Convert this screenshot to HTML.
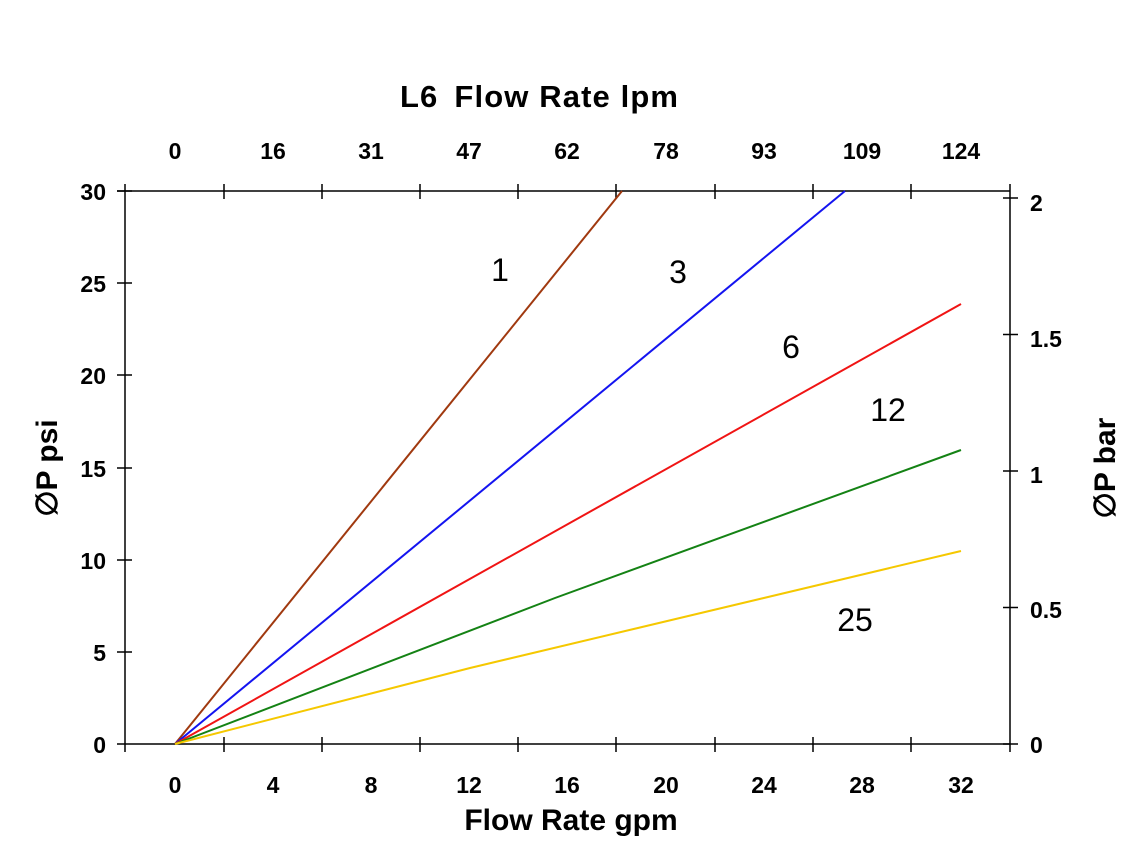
<!DOCTYPE html>
<html><head><style>body{margin:0;background:#fff}</style></head><body>
<svg width="1144" height="858" viewBox="0 0 1144 858" xmlns="http://www.w3.org/2000/svg" font-family="Liberation Sans, sans-serif">
<rect width="1144" height="858" fill="#fff"/>
<g stroke="#000" stroke-width="1.5" fill="none">
<line x1="117" y1="191" x2="1010" y2="191"/>
<line x1="117" y1="744" x2="1010" y2="744"/>
<line x1="125" y1="184" x2="125" y2="752"/>
<line x1="1010" y1="184" x2="1010" y2="752"/>
<path d="M224 737V752M322 737V752M420 737V752M518 737V752M616 737V752M715 737V752M813 737V752M911 737V752"/>
<path d="M224 184V199M322 184V199M420 184V199M518 184V199M616 184V199M715 184V199M813 184V199M911 184V199"/>
<path d="M117 191H132M117 283H132M117 375H132M117 468H132M117 560H132M117 652H132"/>
<path d="M1003 198H1018M1003 334.5H1018M1003 471H1018M1003 607.5H1018M1003 744H1018"/>
</g>
<g stroke-width="2" fill="none">
<line x1="175" y1="744" x2="622" y2="191" stroke="#a0390f"/>
<line x1="175" y1="744" x2="845" y2="191" stroke="#1414f0"/>
<line x1="175" y1="744" x2="961" y2="304" stroke="#f01414"/>
<polyline points="175,744 555,598 961,450" stroke="#148214"/>
<polyline points="175,744 470,668 961,551" stroke="#f5c800"/>
</g>
<g font-size="23" font-weight="bold" text-anchor="middle" fill="#000">
<text x="175" y="793">0</text><text x="273" y="793">4</text><text x="371" y="793">8</text><text x="469" y="793">12</text><text x="567" y="793">16</text><text x="666" y="793">20</text><text x="764" y="793">24</text><text x="862" y="793">28</text><text x="961" y="793">32</text>
<text x="175" y="159">0</text><text x="273" y="159">16</text><text x="371" y="159">31</text><text x="469" y="159">47</text><text x="567" y="159">62</text><text x="666" y="159">78</text><text x="764" y="159">93</text><text x="862" y="159">109</text><text x="961" y="159">124</text>
</g>
<g font-size="23" font-weight="bold" text-anchor="end">
<text x="106" y="200">30</text><text x="106" y="292">25</text><text x="106" y="384">20</text><text x="106" y="477">15</text><text x="106" y="569">10</text><text x="106" y="661">5</text><text x="106" y="753">0</text>
</g>
<g font-size="23" font-weight="bold">
<text x="1030" y="211">2</text><text x="1030" y="347">1.5</text><text x="1030" y="483">1</text><text x="1030" y="618">0.5</text><text x="1030" y="753">0</text>
</g>
<g font-size="30" font-weight="bold" text-anchor="middle">
<text x="400" y="107" text-anchor="start" font-size="31" textLength="278" lengthAdjust="spacing">L6<tspan dx="16">Flow Rate lpm</tspan></text>
<text x="571" y="830">Flow Rate gpm</text>
<text transform="translate(57,468) rotate(-90)">∅P psi</text>
<text transform="translate(1115,468) rotate(-90)">∅P bar</text>
</g>
<g font-size="32" text-anchor="middle">
<text x="500" y="281">1</text><text x="678" y="283">3</text><text x="791" y="358">6</text><text x="888" y="421">12</text><text x="855" y="631">25</text>
</g>
</svg>
</body></html>
